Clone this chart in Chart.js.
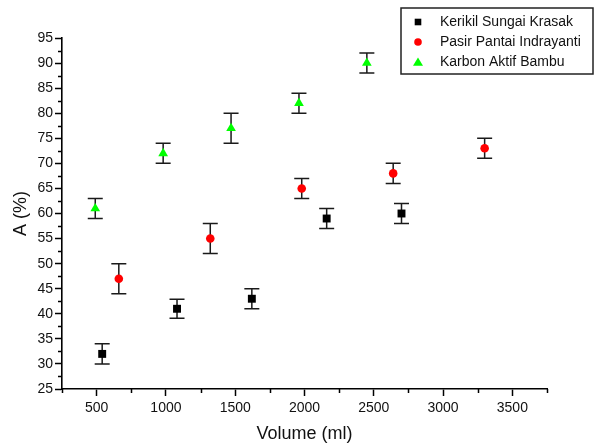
<!DOCTYPE html>
<html>
<head>
<meta charset="utf-8">
<title>A (%) vs Volume (ml)</title>
<script src="https://cdn.jsdelivr.net/npm/chart.js@4.4.0/dist/chart.umd.min.js"></script>
<style>
  html, body { margin: 0; padding: 0; background: #fff; }
  #myChart { display: block; }
</style>
</head>
<body>
<canvas id="myChart" width="595" height="447"></canvas>
<script>
// values
var seriesNames = ['Kerikil Sungai Krasak', 'Pasir Pantai Indrayanti', 'Karbon Aktif Bambu'];

var volKerikil = [540, 1080, 1620, 2160, 2700];
var aKerikil   = [32, 41, 43, 59, 60];
var errKerikil = [2, 1.9, 2, 2, 2];

var volPasir = [660, 1320, 1980, 2640, 3300];
var aPasir   = [47, 55, 65, 68, 73];
var errPasir = [3, 3, 2, 2, 2];

var volKarbon = [490, 980, 1470, 1960, 2450];
var aKarbon   = [61, 72, 77, 82, 90];
var errKarbon = [2, 2, 3, 2, 2];

var xTicks = [500, 1000, 1500, 2000, 2500, 3000, 3500];
var xMinor = [250, 750, 1250, 1750, 2250, 2750, 3250, 3750];
var yTicks = [25, 30, 35, 40, 45, 50, 55, 60, 65, 70, 75, 80, 85, 90, 95];
var yMinor = [27.5, 32.5, 37.5, 42.5, 47.5, 52.5, 57.5, 62.5, 67.5, 72.5, 77.5, 82.5, 87.5, 92.5];

var FONT = "'Liberation Sans', Arial, sans-serif";

function toPoints(xs, ys) {
    return xs.map(function (x, i) { return { x: x, y: ys[i] }; });
}

// error bars, drawn under the markers
var errorBars = {
    id: 'errorBars',
    beforeDatasetsDraw: function (chart) {
        var ctx = chart.ctx, xs = chart.scales.x, ys = chart.scales.y;
        ctx.save();
        ctx.strokeStyle = '#1a1a1a';
        ctx.lineWidth = 1.5;
        chart.data.datasets.forEach(function (ds) {
            ds.data.forEach(function (p, i) {
                var e = ds.errors[i];
                var px = xs.getPixelForValue(p.x);
                var top = ys.getPixelForValue(p.y + e);
                var bot = ys.getPixelForValue(p.y - e);
                ctx.beginPath();
                ctx.moveTo(px, top); ctx.lineTo(px, bot);
                ctx.moveTo(px - 7.5, top); ctx.lineTo(px + 7.5, top);
                ctx.moveTo(px - 7.5, bot); ctx.lineTo(px + 7.5, bot);
                ctx.stroke();
            });
        });
        ctx.restore();
    }
};

// minor ticks + boxed legend
var extras = {
    id: 'extras',
    afterDraw: function (chart) {
        var ctx = chart.ctx, xs = chart.scales.x, ys = chart.scales.y;
        var area = chart.chartArea;
        ctx.save();
        ctx.strokeStyle = '#000';
        ctx.lineWidth = 1.5;
        ctx.beginPath();
        xMinor.forEach(function (v) {
            var px = Math.round(xs.getPixelForValue(v)) + 0.5;
            ctx.moveTo(px, area.bottom); ctx.lineTo(px, area.bottom + 4);
        });
        yMinor.forEach(function (v) {
            var py = Math.round(ys.getPixelForValue(v)) + 0.5;
            ctx.moveTo(area.left, py); ctx.lineTo(area.left - 4, py);
        });
        ctx.stroke();

        // legend
        ctx.strokeStyle = '#222';
        ctx.lineWidth = 1.5;
        ctx.strokeRect(401, 8, 192, 66);
        ctx.font = '14px ' + FONT;
        ctx.textBaseline = 'middle';
        ctx.textAlign = 'left';
        chart.data.datasets.forEach(function (ds, i) {
            var y = 22 + i * 20, x = 418;
            ctx.fillStyle = ds.backgroundColor;
            ctx.beginPath();
            if (ds.pointStyle === 'rect') {
                ctx.rect(x - 3.3, y - 3.3, 6.6, 6.6);
            } else if (ds.pointStyle === 'circle') {
                ctx.arc(x, y, 3.8, 0, Math.PI * 2);
            } else {
                ctx.moveTo(x, y - 4.5);
                ctx.lineTo(x + 5, y + 3.8);
                ctx.lineTo(x - 5, y + 3.8);
                ctx.closePath();
            }
            ctx.fill();
            ctx.fillStyle = '#111';
            ctx.fillText(ds.label, 440, y + 0.5);
        });
        ctx.restore();
    }
};

var ctx = document.getElementById('myChart').getContext('2d');
var myChart = new Chart(ctx, {
    type: 'scatter',
    data: {
        datasets: [{
            label: seriesNames[0],
            data: toPoints(volKerikil, aKerikil),
            errors: errKerikil,
            pointStyle: 'rect',
            pointRadius: 5.6,
            backgroundColor: '#000000',
            borderWidth: 0
        }, {
            label: seriesNames[1],
            data: toPoints(volPasir, aPasir),
            errors: errPasir,
            pointStyle: 'circle',
            pointRadius: 4.3,
            backgroundColor: '#ff0000',
            borderWidth: 0
        }, {
            label: seriesNames[2],
            data: toPoints(volKarbon, aKarbon),
            errors: errKarbon,
            pointStyle: 'triangle',
            pointRadius: 5.6,
            backgroundColor: '#00ff00',
            borderWidth: 0
        }]
    },
    options: {
        responsive: false,
        animation: false,
        layout: { padding: { top: 38, right: 48, left: 0, bottom: 0 } },
        plugins: {
            legend: { display: false },
            tooltip: { enabled: false }
        },
        scales: {
            x: {
                type: 'linear',
                min: 250,
                max: 3750,
                afterBuildTicks: function (s) { s.ticks = xTicks.map(function (v) { return { value: v }; }); },
                afterFit: function (s) { s.height = 58; },
                grid: { drawOnChartArea: false, tickLength: 7, tickWidth: 1.5, tickColor: '#000' },
                border: { color: '#000', width: 1.6 },
                ticks: {
                    autoSkip: false, maxRotation: 0, padding: 4, color: '#111',
                    font: { family: FONT, size: 14 },
                    callback: function (v) { return String(v); }
                },
                title: { display: true, text: 'Volume (ml)', color: '#111', font: { family: FONT, size: 18 }, padding: { bottom: 2, top: 0 } }
            },
            y: {
                type: 'linear',
                min: 25,
                max: 95,
                afterBuildTicks: function (s) { s.ticks = yTicks.map(function (v) { return { value: v }; }); },
                afterFit: function (s) { s.width = 62; },
                grid: { drawOnChartArea: false, tickLength: 7, tickWidth: 1.5, tickColor: '#000' },
                border: { color: '#000', width: 1.6 },
                ticks: {
                    autoSkip: false, padding: 2, color: '#111',
                    font: { family: FONT, size: 14 },
                    callback: function (v) { return String(v); }
                },
                title: { display: true, text: 'A (%)', color: '#111', font: { family: FONT, size: 18 }, padding: { top: 10, bottom: 0 } }
            }
        }
    },
    plugins: [errorBars, extras]
});
</script>
</body>
</html>
